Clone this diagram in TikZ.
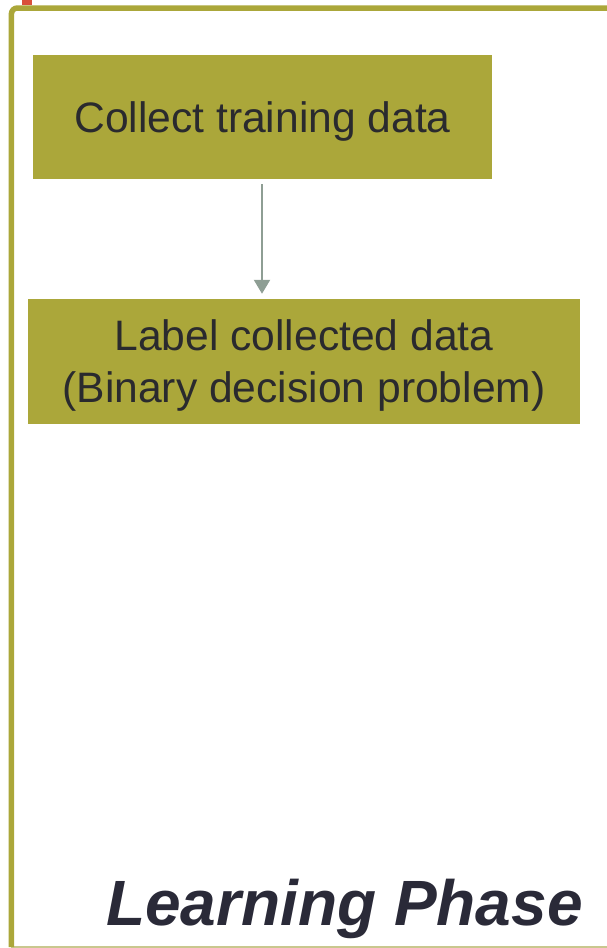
\documentclass[tikz,border=0pt]{standalone}
\usepackage{fontspec}
\setmainfont{Liberation Sans}
\usetikzlibrary{arrows.meta}
\definecolor{olive}{HTML}{ABA73A}
\definecolor{paleolive}{HTML}{C9C78E}
\definecolor{arrowgrey}{HTML}{8E9E94}
\definecolor{inktext}{HTML}{2A2A2E}
\definecolor{titleink}{HTML}{2A2A38}
\definecolor{markred}{HTML}{D9503A}
\begin{document}
\begin{tikzpicture}[x=1pt,y=-1pt,
  stepbox/.style={fill=olive, draw=none, inner sep=0pt, text=inktext,
    font=\fontsize{42.6}{52}\selectfont, align=center, text depth=0pt},
  flow/.style={draw=arrowgrey, line width=2.2pt,
    -{Triangle[length=14pt,width=16pt]}}]
  \useasboundingbox (0,0) rectangle (607,948);
  % small red marker at the top edge
  \fill[markred] (22,0) rectangle (32,5);
  % frame of the phase panel
  \draw[paleolive, line width=1.5pt] (11,946.8) -- (607,946.8);
  \draw[olive, line width=5.5pt, rounded corners=6pt] (11.4,947) -- (11.4,8) -- (607,8);
  % steps
  \node[stepbox, minimum width=459pt, minimum height=124pt] (collect) at (262.5,117)
    {Collect training data};
  \node[stepbox, minimum width=552pt, minimum height=125pt] (label) at (304,361.5)
    {Label collected data\\(Binary decision problem)};
  \draw[flow] ([yshift=-5pt]collect.south -| 262,0) -- ([yshift=5pt]label.north -| 262,0);
  % phase title
  \node[anchor=base east, inner sep=0pt, text=titleink,
    font=\fontsize{64}{64}\selectfont\bfseries\itshape] (title) at (583,925) {Learning Phase};
\end{tikzpicture}
\end{document}
